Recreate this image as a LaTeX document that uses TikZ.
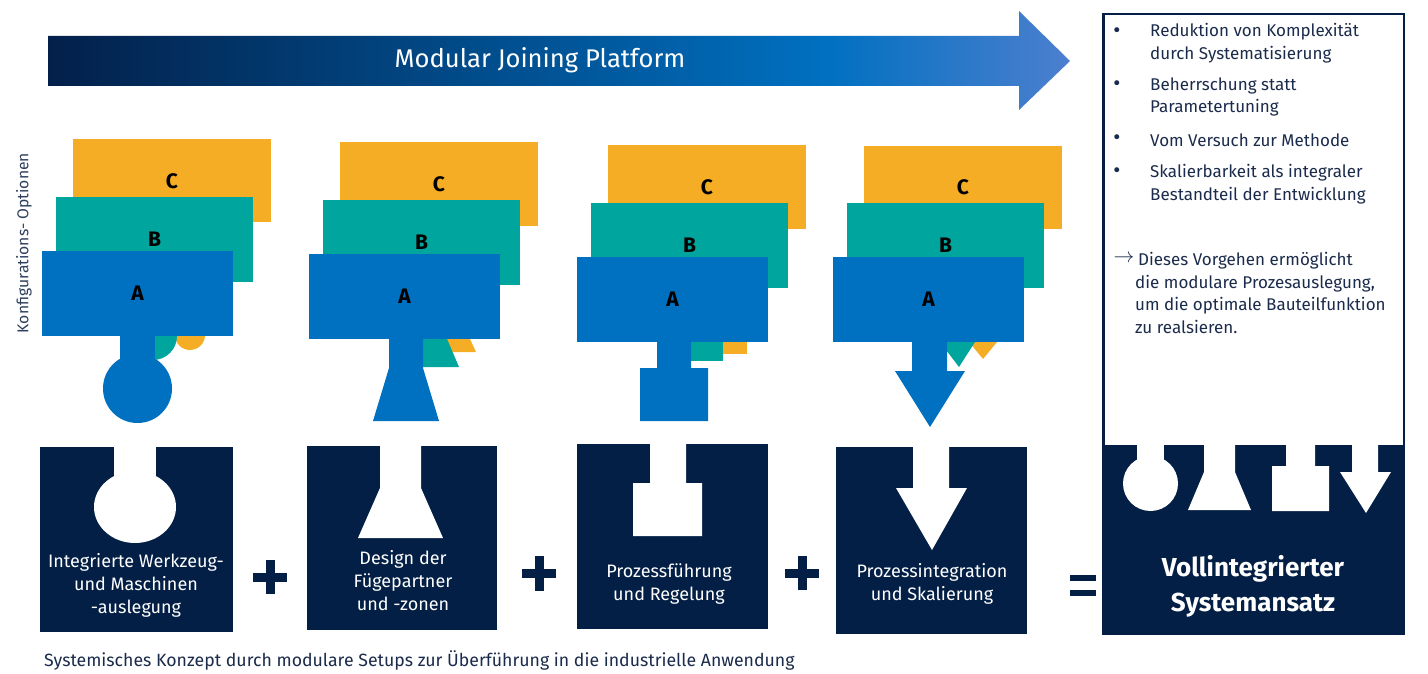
\documentclass[tikz,border=0pt]{standalone}
\usepackage{fontspec}
\setmainfont{Fira Sans}
\newfontfamily\dejavu{DejaVu Sans}
\definecolor{navy}{HTML}{031F45}
\definecolor{cA}{HTML}{0070C0}
\definecolor{cB}{HTML}{00A59D}
\definecolor{cC}{HTML}{F4AD24}
\definecolor{txtnavy}{HTML}{1B2B4B}
\definecolor{lblgray}{HTML}{2E3F5E}
\definecolor{hdrA}{HTML}{03204A}
\definecolor{hdrB}{HTML}{0070C0}
\definecolor{hdrC}{HTML}{4D7FCF}
\pgfdeclarehorizontalshading{hdrshade}{100bp}{color(0bp)=(hdrA); color(25bp)=(hdrA); color(63bp)=(hdrB); color(75bp)=(hdrC); color(100bp)=(hdrC)}
\tikzset{
  letter/.style={font=\fontsize{21}{24}\selectfont\bfseries, text=black, inner sep=0pt},
  boxtxt/.style={font=\fontsize{18}{23}\selectfont, text=white, align=center, inner sep=0pt},
  sidetxt/.style={font=\fontsize{17}{22.7}\selectfont, text=txtnavy, align=left, inner sep=0pt, anchor=west},
  bul/.style={font=\dejavu\fontsize{17}{22.7}\selectfont, text=txtnavy, inner sep=0pt},
}
\begin{document}
\begin{tikzpicture}[x=1pt,y=-1pt]
\useasboundingbox (0,0) rectangle (1428,674);
\fill[white] (0,0) rectangle (1428,674);

% header arrow
\shade[shading=hdrshade] (48,36) -- (1019,36) -- (1019,11) -- (1070,61) -- (1019,110) -- (1019,86) -- (48,86) -- cycle;
\node[font=\fontsize{25.6}{28}\selectfont, text=white, inner sep=0pt] (title) at (540,60) {Modular Joining Platform};

% vertical label
\node[rotate=90, font=\fontsize{15.7}{18}\selectfont, text=lblgray, inner sep=0pt] (konf) at (24,243) {Konfigurations- Optionen};

% column 1
\fill[cC] (73,139) rectangle (271,222);
\fill[cC] (190,335) circle (15);
\fill[cB] (56,197) rectangle (253,282);
\fill[cB] (153,336) circle (24);
\fill[cA] (42,251) rectangle (233,336);
\fill[cA] (120,330) rectangle (155,372);
\fill[cA] (137.5,388.5) circle (34.5);
\node[letter] (c1) at (172,181) {C};
\node[letter] (b1) at (154.5,239) {B};
\node[letter] (a1) at (137.5,293) {A};

% column 2
\fill[cC] (340,142) rectangle (538,226);
\fill[cC] (430,339) -- (470,339) -- (476,352) -- (430,352) -- cycle;
\fill[cB] (323,200) rectangle (520,285);
\fill[cB] (400,339) -- (447,339) -- (459,367) -- (400,367) -- cycle;
\fill[cA] (309,254) rectangle (500,339);
\fill[cA] (389,338) -- (423,338) -- (423,368) -- (439,421) -- (373,421) -- (389,368) -- cycle;
\node[letter] (c2) at (439,184) {C};
\node[letter] (b2) at (421.5,242) {B};
\node[letter] (a2) at (404.5,296) {A};

% column 3
\fill[cC] (608,145) rectangle (806,229);
\fill[cC] (700,342) rectangle (747,354);
\fill[cB] (591,203) rectangle (788,288);
\fill[cB] (680,342) rectangle (723,361);
\fill[cA] (577,257) rectangle (768,342);
\fill[cA] (657,341) -- (691,341) -- (691,368) -- (708,368) -- (708,421) -- (640,421) -- (640,368) -- (657,368) -- cycle;
\node[letter] (c3) at (707,187) {C};
\node[letter] (b3) at (689.5,245) {B};
\node[letter] (a3) at (672.5,299) {A};

% column 4
\fill[cC] (864,146) rectangle (1062,229);
\fill[cC] (969,342) -- (997,342) -- (983,359) -- cycle;
\fill[cB] (847,203) rectangle (1044,288);
\fill[cB] (940,342) -- (975,342) -- (959,367) -- cycle;
\fill[cA] (833,257) rectangle (1024,342);
\fill[cA] (912,341) -- (947,341) -- (947,371) -- (965,371) -- (930,427) -- (895,371) -- (912,371) -- cycle;
\node[letter] (c4) at (963,187) {C};
\node[letter] (b4) at (945.5,245) {B};
\node[letter] (a4) at (928.5,299) {A};

% bottom box 1
\fill[navy] (40,447) rectangle (233,632);
\fill[white] (114,446) rectangle (156,490);
\fill[white] (135,507) ellipse [x radius=41, y radius=36];
\node[boxtxt] (t1) at (136,585) {Integrierte Werkzeug-\\und Maschinen\\-auslegung};

% bottom box 2
\fill[navy] (307,446) rectangle (497,630);
\fill[white] (380,445) -- (421,445) -- (421,488) -- (443,538) -- (358,538) -- (380,488) -- cycle;
\node[boxtxt] (t2) at (403,581) {Design der\\Fügepartner\\und -zonen};

% bottom box 3
\fill[navy] (577,444) rectangle (768,629);
\fill[white] (650,443) -- (686,443) -- (686,483) -- (702,483) -- (702,536) -- (633,536) -- (633,483) -- (650,483) -- cycle;
\node[boxtxt] (t3) at (669,584) {Prozessführung\\und Regelung};

% bottom box 4
\fill[navy] (836,447) rectangle (1027,634);
\fill[white] (913,446) -- (949,446) -- (949,488) -- (967,488) -- (932,550) -- (896,488) -- (913,488) -- cycle;
\node[boxtxt] (t4) at (932,584) {Prozessintegration\\und Skalierung};

% plus and equals signs
\fill[navy] (253,572.5) rectangle (287,581.5);
\fill[navy] (265.5,560) rectangle (274.5,594);
\fill[navy] (522,569) rectangle (556,578);
\fill[navy] (534.5,556) rectangle (543.5,591);
\fill[navy] (785,568.5) rectangle (819,577.5);
\fill[navy] (797.5,556) rectangle (806.5,590);
\fill[navy] (1070,575) rectangle (1096,581);
\fill[navy] (1070,590) rectangle (1096,596);

% right box
\draw[navy, line width=2.5pt] (1103.25,14.25) rectangle (1403.75,446);
\fill[navy] (1102,446) rectangle (1405,635);
\fill[white] (1137,445) rectangle (1164,470);
\fill[white] (1150.5,483.5) circle (27.5);
\fill[white] (1204,445) -- (1235,445) -- (1235,472) -- (1251,510) -- (1188,510) -- (1204,472) -- cycle;
\fill[white] (1286,445) -- (1315,445) -- (1315,466) -- (1329,466) -- (1329,511) -- (1272,511) -- (1272,466) -- (1286,466) -- cycle;
\fill[white] (1352,445) -- (1378,445) -- (1378,472) -- (1391,472) -- (1366,513) -- (1340,472) -- (1352,472) -- cycle;
\node[font=\fontsize{26}{35}\selectfont\bfseries, text=white, align=center, inner sep=0pt] (t5) at (1253,586) {Vollintegrierter\\Systemansatz};

\node[bul] (b1a) at (1117,32) {•};
\node[sidetxt] (s1) at (1150,43) {Reduktion von Komplexität\\durch Systematisierung};
\node[bul] (b2a) at (1117,85) {•};
\node[sidetxt] (s2) at (1150,97) {Beherrschung statt\\Parametertuning};
\node[bul] (b3a) at (1117,139) {•};
\node[sidetxt] (s3) at (1150,140) {Vom Versuch zur Methode};
\node[bul] (b4a) at (1117,172) {•};
\node[sidetxt] (s4) at (1150,184) {Skalierbarkeit als integraler\\Bestandteil der Entwicklung};
\node[font=\fontsize{21}{21}\selectfont, text=txtnavy, inner sep=0pt] (arr) at (1124,259) {$\rightarrow$};
\node[sidetxt] (s5) at (1135,293) {\hspace*{3pt}Dieses Vorgehen ermöglicht\\die modulare Prozesauslegung,\\um die optimale Bauteilfunktion\\zu realsieren.};

% caption
\node[font=\fontsize{17.7}{20}\selectfont, text=txtnavy, inner sep=0pt, anchor=west] (cap) at (44,660) {Systemisches Konzept durch modulare Setups zur Überführung in die industrielle Anwendung};
\end{tikzpicture}
\end{document}
